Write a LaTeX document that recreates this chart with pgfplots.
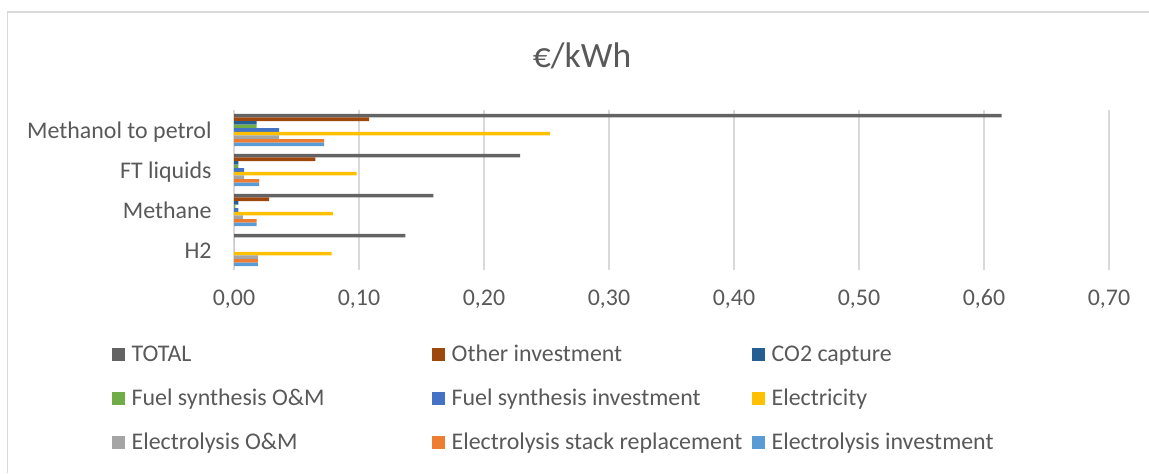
\documentclass[border=0pt]{standalone}
\usepackage{pgfplots}
\pgfplotsset{compat=1.18}
\usepackage{fontspec}
\setmainfont{Carlito}
\definecolor{txt}{HTML}{595959}
\definecolor{grd}{HTML}{D9D9D9}
\definecolor{cTotal}{HTML}{636363}
\definecolor{cOther}{HTML}{9E480E}
\definecolor{cCO}{HTML}{255E91}
\definecolor{cFSOM}{HTML}{70AD47}
\definecolor{cFSI}{HTML}{4472C4}
\definecolor{cEl}{HTML}{FFC000}
\definecolor{cEOM}{HTML}{A5A5A5}
\definecolor{cStack}{HTML}{ED7D31}
\definecolor{cEInv}{HTML}{5B9BD5}
\begin{document}
\begin{tikzpicture}
\useasboundingbox (0,0) rectangle (574.5pt,236.5pt);
\draw[grd, line width=0.75pt] (3.75pt,0pt) -- (3.75pt,230.5pt) -- (574.5pt,230.5pt);
\node[anchor=base, text=txt, font=\fontsize{17.8}{20}\selectfont] at (291pt,202.65pt) {€/kWh};
\begin{axis}[
  at={(117pt,101.5pt)}, anchor=south west,
  scale only axis, width=437.5pt, height=80pt,
  xbar, bar width=0.09,
  xmin=0, xmax=0.7, ymin=-0.5, ymax=3.5,
  y dir=reverse,
  xtick={0,0.1,...,0.7},
  ytick={0,1,2,3},
  yticklabels={Methanol to petrol, FT liquids, Methane, H2},
  xmajorgrids, major grid style={grd, line width=0.75pt},
  major tick length=0pt,
  axis x line*=bottom, axis y line*=left,
  x axis line style={draw=none},
  y axis line style={draw=grd, line width=0.75pt},
  tick label style={text=txt, font=\fontsize{11.95}{14}\selectfont},
  xticklabel style={anchor=base, yshift=-17.75pt, inner sep=0pt},
  yticklabel style={anchor=base east, xshift=-11pt, yshift=-4pt, inner sep=0pt},
  /pgf/number format/.cd, fixed, fixed zerofill, precision=2, use comma, assume math mode=true,
  /pgfplots/.cd,
  legend columns=3,
  legend cell align=left,
  legend image code/.code={\fill[#1] (0pt,0.55pt) rectangle (6.3pt,6.85pt);},
  legend style={
    at={(-0.13943,-0.473)}, anchor=north west,
    draw=none, fill=none, inner sep=0pt, outer sep=0pt,
    row sep=0pt,
    font=\fontsize{11.95}{14}\selectfont, text=txt,
    nodes={inner sep=0pt, text height=8pt, text depth=14pt, anchor=base west},
    /tikz/every odd column/.style={column sep=3.55pt},
    /tikz/every even column/.style={column sep=0pt},
  },
]
\addplot[fill=cTotal, draw=none, bar shift=-0.36] coordinates {(0.614,0) (0.2288,1) (0.1595,2) (0.137,3)};
\addlegendentry{\makebox[150.15pt][l]{TOTAL}}
\addplot[fill=cOther, draw=none, bar shift=-0.27] coordinates {(0.108,0) (0.065,1) (0.028,2) (0,3)};
\addlegendentry{\makebox[150.15pt][l]{Other investment}}
\addplot[fill=cCO, draw=none, bar shift=-0.18] coordinates {(0.018,0) (0.0035,1) (0.0035,2) (0,3)};
\addlegendentry{\makebox[150.15pt][l]{CO2 capture}}
\addplot[fill=cFSOM, draw=none, bar shift=-0.09] coordinates {(0.018,0) (0.0035,1) (0.001,2) (0,3)};
\addlegendentry{\makebox[150.15pt][l]{Fuel synthesis O\&M}}
\addplot[fill=cFSI, draw=none, bar shift=0] coordinates {(0.036,0) (0.008,1) (0.0035,2) (0,3)};
\addlegendentry{\makebox[150.15pt][l]{Fuel synthesis investment}}
\addplot[fill=cEl, draw=none, bar shift=0.09] coordinates {(0.2528,0) (0.098,1) (0.079,2) (0.078,3)};
\addlegendentry{\makebox[150.15pt][l]{Electricity}}
\addplot[fill=cEOM, draw=none, bar shift=0.18] coordinates {(0.036,0) (0.008,1) (0.007,2) (0.019,3)};
\addlegendentry{\makebox[150.15pt][l]{Electrolysis O\&M}}
\addplot[fill=cStack, draw=none, bar shift=0.27] coordinates {(0.072,0) (0.020,1) (0.018,2) (0.019,3)};
\addlegendentry{\makebox[150.15pt][l]{Electrolysis stack replacement}}
\addplot[fill=cEInv, draw=none, bar shift=0.36] coordinates {(0.072,0) (0.020,1) (0.018,2) (0.019,3)};
\addlegendentry{\makebox[150.15pt][l]{Electrolysis investment}}
\end{axis}
\end{tikzpicture}
\end{document}
